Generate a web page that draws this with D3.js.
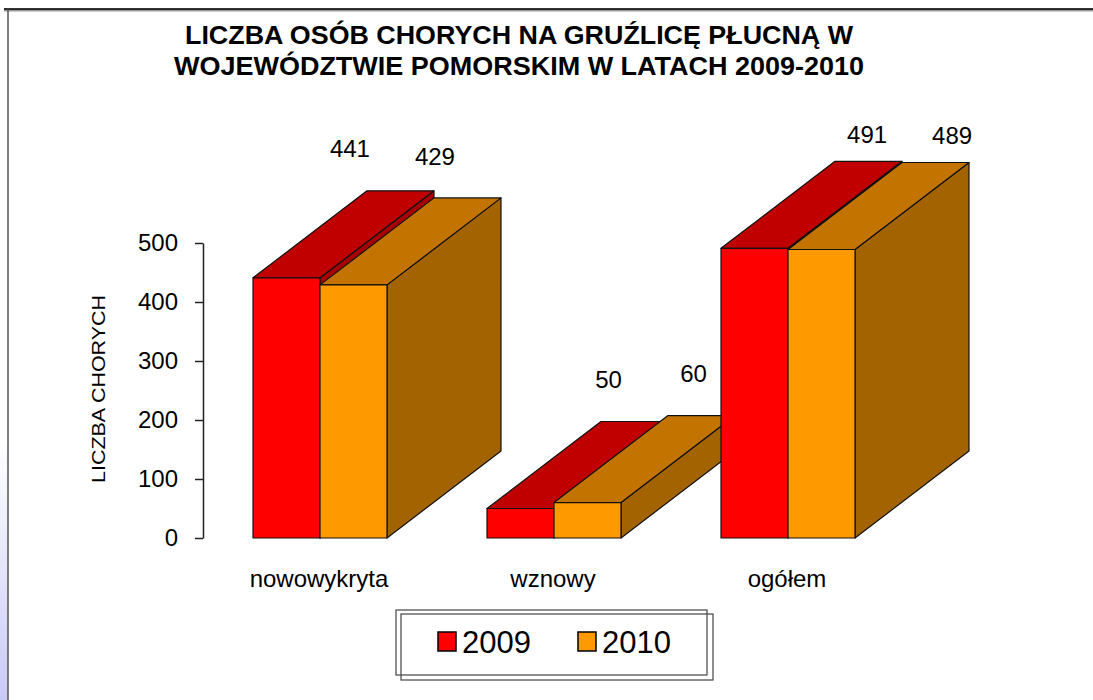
<!DOCTYPE html>
<html>
<head>
<meta charset="utf-8">
<script src="https://d3js.org/d3.v7.min.js"></script>
<style>
  body { margin: 0; background: #fff; }
  svg { display: block; font-family: "Liberation Sans", Arial, sans-serif; }
</style>
</head>
<body>
<div id="chart"></div>
<script>
'use strict';

var categories = ['nowowykryta', 'wznowy', 'ogółem'];
var seriesNames = ['2009', '2010'];
var values2009 = [441, 50, 491];
var values2010 = [429, 60, 489];
var yTicks = [0, 100, 200, 300, 400, 500];
var titleLines = ['LICZBA OSÓB CHORYCH NA GRUŹLICĘ PŁUCNĄ W', 'WOJEWÓDZTWIE POMORSKIM W LATACH 2009-2010'];
var yLabel = 'LICZBA CHORYCH';

var W = 1093, H = 700;
var margin = { left: 203, top: 243, bottom: 538 };
var DX = 114, DY = -87; // oblique depth of the bars

var colors = {
  '2009': { front: '#ff0000', top: '#c00000', side: '#a80000' },
  '2010': { front: '#ff9900', top: '#c37400', side: '#a36300' }
};

var svg = d3.select('#chart').append('svg')
    .attr('width', W)
    .attr('height', H);

// slide background bits
var defs = svg.append('defs');
var grad = defs.append('linearGradient')
    .attr('id', 'lav').attr('x1', 0).attr('y1', 0).attr('x2', 0).attr('y2', 1);
grad.append('stop').attr('offset', '0%').attr('stop-color', '#ffffff');
grad.append('stop').attr('offset', '100%').attr('stop-color', '#c9c9f6');
svg.append('rect').attr('x', 0).attr('y', 440).attr('width', 8).attr('height', 260)
    .attr('fill', 'url(#lav)');

// frame
svg.append('line').attr('x1', 4).attr('x2', W).attr('y1', 10).attr('y2', 10)
    .attr('stroke', '#999').attr('stroke-width', 3);
svg.append('line').attr('x1', 4).attr('x2', W).attr('y1', 9).attr('y2', 9)
    .attr('stroke', '#000').attr('stroke-width', 1.5);
svg.append('line').attr('x1', 8).attr('x2', 8).attr('y1', 9).attr('y2', H)
    .attr('stroke', '#555').attr('stroke-width', 1.5);

// title
svg.append('g').selectAll('text')
    .data(titleLines)
    .enter().append('text')
      .attr('x', 519)
      .attr('y', function(d, i) { return 44 + i * 31; })
      .attr('text-anchor', 'middle')
      .attr('font-size', 26)
      .attr('font-weight', 'bold')
      .attr('textLength', function(d, i) { return i === 0 ? 668 : 690; })
      .attr('lengthAdjust', 'spacingAndGlyphs')
      .text(function(d) { return d; });

// scales
var x0 = d3.scaleBand()
    .domain(categories)
    .range([margin.left, margin.left + 702])
    .paddingInner(100 / 234)
    .paddingOuter(50 / 234);

var x1 = d3.scaleBand()
    .domain(seriesNames)
    .range([0, x0.bandwidth()]);

var y = d3.scaleLinear()
    .domain([0, 500])
    .range([margin.bottom, margin.top]);

// y axis
var yAxis = d3.axisLeft(y)
    .tickValues(yTicks)
    .tickSize(8)
    .tickPadding(17)
    .tickSizeOuter(0);

var ax = svg.append('g')
    .attr('transform', 'translate(' + margin.left + ',0)')
    .call(yAxis);
ax.select('.domain').attr('stroke', '#222').attr('stroke-width', 1.5);
ax.selectAll('.tick line').attr('stroke', '#222').attr('stroke-width', 1.5);
ax.selectAll('.tick text')
    .attr('font-size', 24)
    .attr('fill', '#000')
    .attr('font-family', '"Liberation Sans", Arial, sans-serif');

svg.append('text')
    .attr('transform', 'translate(' + 105 + ',' + 389 + ') rotate(-90)')
    .attr('text-anchor', 'middle')
    .attr('font-size', 18)
    .attr('textLength', 188)
    .attr('lengthAdjust', 'spacingAndGlyphs')
    .text(yLabel);

// category labels
svg.append('g').selectAll('text')
    .data(categories)
    .enter().append('text')
      .attr('x', function(d) { return x0(d) + x0.bandwidth() / 2 - 1; })
      .attr('y', 587)
      .attr('text-anchor', 'middle')
      .attr('font-size', 24)
      .text(function(d) { return d; });

// bars
var rows = categories.map(function(c, i) {
  return { cat: c, vals: [
    { key: '2009', value: values2009[i] },
    { key: '2010', value: values2010[i] }
  ] };
});

function pts(a) { return a.map(function(p) { return p.join(','); }).join(' '); }

var bars = svg.append('g').selectAll('g')
    .data(rows)
    .enter().append('g');

var bar = bars.selectAll('g')
    .data(function(d) { return d.vals.map(function(v) { return { cat: d.cat, key: v.key, value: v.value }; }); })
    .enter().append('g');

bar.each(function(d) {
  var g = d3.select(this);
  var xl = x0(d.cat) + x1(d.key);
  var xr = xl + x1.bandwidth();
  var yt = y(d.value);
  var yb = y(0);
  var c = colors[d.key];
  g.append('polygon')
      .attr('points', pts([[xr, yt], [xr + DX, yt + DY], [xr + DX, yb + DY], [xr, yb]]))
      .attr('fill', c.side);
  g.append('polygon')
      .attr('points', pts([[xl, yt], [xl + DX, yt + DY], [xr + DX, yt + DY], [xr, yt]]))
      .attr('fill', c.top);
  g.append('rect')
      .attr('x', xl).attr('y', yt)
      .attr('width', xr - xl).attr('height', yb - yt)
      .attr('fill', c.front);
  g.selectAll('polygon, rect')
      .attr('stroke', '#111')
      .attr('stroke-width', 1.2)
      .attr('stroke-linejoin', 'round');
});

// value labels float above the back of each bar (perspective-ish shift)
var mid = (x0.range()[0] + x0.range()[1]) / 2;
svg.append('g').selectAll('text')
    .data(rows.reduce(function(a, r) {
      return a.concat(r.vals.map(function(v) { return { cat: r.cat, key: v.key, value: v.value }; }));
    }, []))
    .enter().append('text')
      .attr('x', function(d) {
        var gc = x0(d.cat) + x0.bandwidth() / 2;
        var s = seriesNames.indexOf(d.key) - 0.5;
        return mid + 97 + 1.105 * (gc - mid) + 85 * s;
      })
      .attr('y', function(d) {
        var gc = x0(d.cat) + x0.bandwidth() / 2;
        return y(d.value) - 129 + 0.065 * Math.max(0, gc - mid);
      })
      .attr('dy', '0.36em')
      .attr('text-anchor', 'middle')
      .attr('font-size', 24)
      .text(function(d) { return d.value; });

// legend
var lg = svg.append('g');
lg.append('rect').attr('x', 401).attr('y', 614).attr('width', 312).attr('height', 66)
    .attr('fill', 'none').attr('stroke', '#444').attr('stroke-width', 1.2);
lg.append('rect').attr('x', 396).attr('y', 610).attr('width', 311).attr('height', 65)
    .attr('fill', 'none').attr('stroke', '#444').attr('stroke-width', 1.2);

var item = lg.selectAll('g')
    .data(seriesNames)
    .enter().append('g')
      .attr('transform', function(d, i) { return 'translate(' + (438 + i * 140) + ',632)'; });
item.append('rect')
    .attr('width', 18).attr('height', 19)
    .attr('fill', function(d) { return colors[d].front; })
    .attr('stroke', '#000').attr('stroke-width', 1.5);
item.append('text')
    .attr('x', 24).attr('y', 21)
    .attr('font-size', 31)
    .text(function(d) { return d; });
</script>
</body>
</html>
